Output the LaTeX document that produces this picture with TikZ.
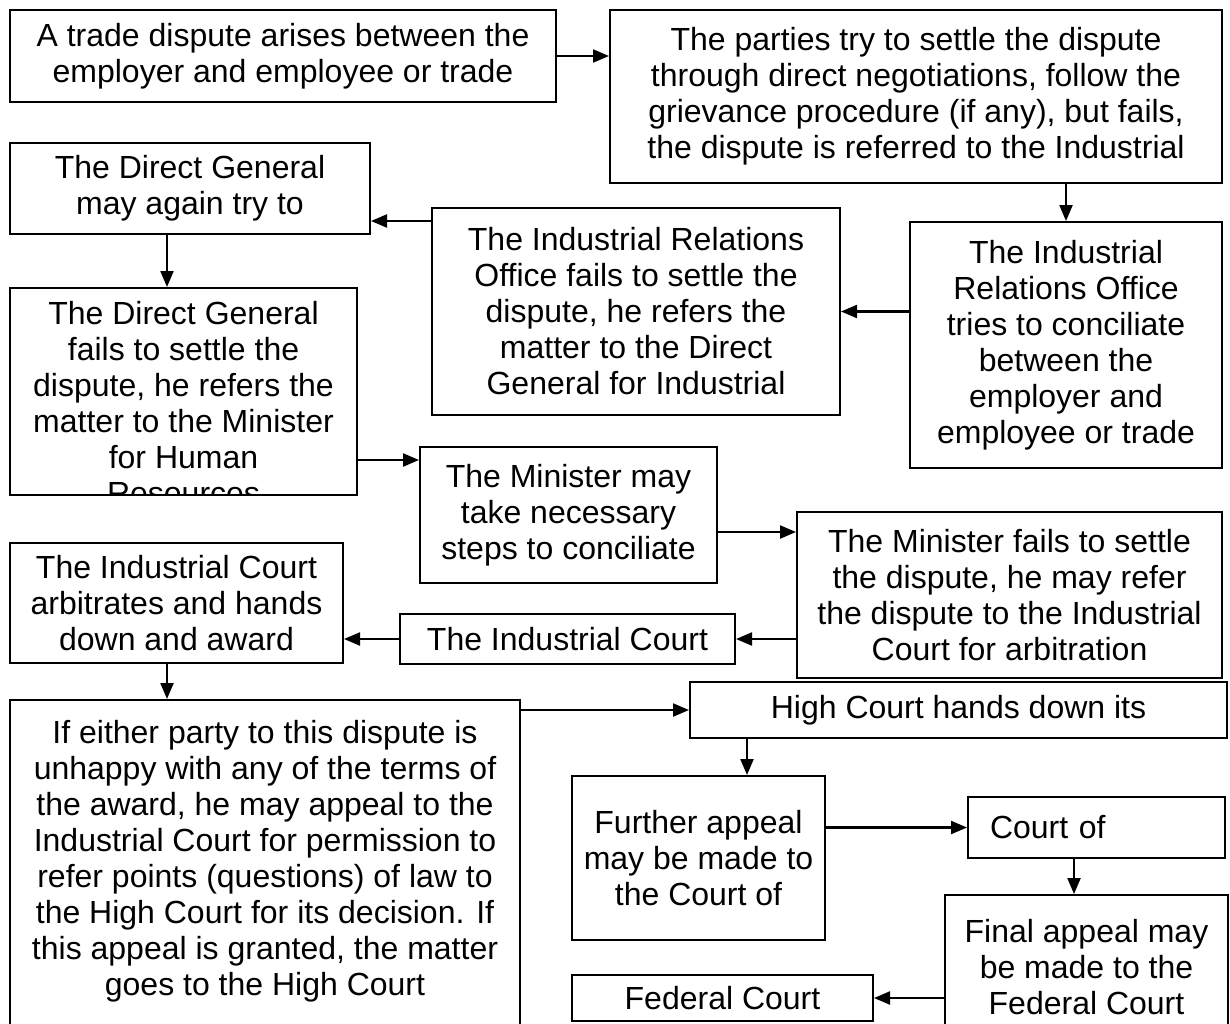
\documentclass[tikz,border=0pt]{standalone}
\usepackage{fontspec}
\setmainfont{Liberation Sans}
\usetikzlibrary{arrows.meta}

\begin{document}
\begin{tikzpicture}[x=1pt,y=-1pt,>={Triangle[length=16pt,width=13pt]},
  stage/.style={draw,line width=2pt,inner sep=0pt,align=center,font=\fontsize{32}{36}\selectfont},
  txt/.style={inner sep=0pt,align=center,font=\fontsize{32}{36}\selectfont},
  flow/.style={->,line width=2.2pt}]
\clip (0,0) rectangle (1230,1023);
\fill[white] (0,0) rectangle (1230,1023);
% dispute and conciliation
\node[stage,minimum width=546pt,minimum height=92pt] (arise) at (283,56) {A trade dispute arises between the\\employer and employee or trade};
\node[stage,minimum width=612pt,minimum height=173pt] (negotiate) at (916,96.5) {The parties try to settle the dispute\\through direct negotiations, follow the\\grievance procedure (if any), but fails,\\the dispute is referred to the Industrial};
\node[stage,minimum width=312pt,minimum height=246pt] (iroconcil) at (1066,345) {The Industrial\\Relations Office\\tries to conciliate\\between the\\employer and\\employee or trade};
\node[stage,minimum width=408pt,minimum height=207pt] (irofail) at (636,311.5) {The Industrial Relations\\Office fails to settle the\\dispute, he refers the\\matter to the Direct\\General for Industrial};
\node[stage,minimum width=360pt,minimum height=91pt] (dgtry) at (190,188.5) {The Direct General\\may again try to};
\begin{scope}
\clip (10,288) rectangle (357,494);
\node[txt,anchor=north] (dgfailtext) at (183.5,301) {The Direct General\\fails to settle the\\dispute, he refers the\\matter to the Minister\\for Human\\Resources};
\end{scope}
\node[stage,minimum width=347pt,minimum height=207pt] (dgfail) at (183.5,391.5) {};
% minister and court
\node[stage,minimum width=297pt,minimum height=136pt] (mintry) at (568.5,515) {The Minister may\\take necessary\\steps to conciliate};
\node[stage,minimum width=425pt,minimum height=166pt] (minfail) at (1009.5,595) {The Minister fails to settle\\the dispute, he may refer\\the dispute to the Industrial\\Court for arbitration};
\node[stage,minimum width=335pt,minimum height=50pt] (indcourt) at (567.5,639) {The Industrial Court};
\node[stage,minimum width=333pt,minimum height=120pt] (award) at (176.5,603) {The Industrial Court\\arbitrates and hands\\down and award};
% appeals
\node[stage,minimum width=510pt,minimum height=340pt] (appeal) at (265,870) {};
\node[txt,anchor=north] (appealtext) at (265,720) {If either party to this dispute is\\unhappy with any of the terms of\\the award, he may appeal to the\\Industrial Court for permission to\\refer points (questions) of law to\\the High Court for its decision. If\\this appeal is granted, the matter\\goes to the High Court};
\node[stage,minimum width=537pt,minimum height=56pt] (highcourt) at (958.5,710) {High Court hands down its};
\node[stage,minimum width=253pt,minimum height=164pt] (further) at (698.5,858) {Further appeal\\may be made to\\the Court of};
\node[stage,minimum width=257pt,minimum height=61pt,text width=213pt,align=left] (courtof) at (1096.5,827.5) {Court of};
\node[stage,minimum width=283pt,minimum height=144pt] (final) at (1086.5,967) {Final appeal may\\be made to the\\Federal Court};
\node[stage,minimum width=301pt,minimum height=46pt] (federal) at (722.5,998) {Federal Court};

\draw[flow] (arise.east) -- (arise.east -| negotiate.west);
\draw[flow] (iroconcil.north |- negotiate.south) -- (iroconcil.north);
\draw[flow] (iroconcil.west |- irofail.east) -- (irofail.east);
\draw[flow] ([yshift=-14pt]irofail.north west) -- ([yshift=-14pt]irofail.north west -| dgtry.east);
\draw[flow] ([xshift=158pt]dgtry.south west) -- ([xshift=158pt]dgtry.south west |- dgfail.north);
\draw[flow] ([yshift=-14pt]mintry.north west -| dgfail.east) -- ([yshift=-14pt]mintry.north west);
\draw[flow] ([yshift=-21pt]minfail.north west -| mintry.east) -- ([yshift=-21pt]minfail.north west);
\draw[flow] (minfail.west |- indcourt.east) -- (indcourt.east);
\draw[flow] (indcourt.west) -- (indcourt.west -| award.east);
\draw[flow] ([xshift=158pt]award.south west) -- ([xshift=158pt]award.south west |- appeal.north);
\draw[flow] (appeal.east |- highcourt.west) -- (highcourt.west);
\draw[flow] ([xshift=58pt]highcourt.south west) -- ([xshift=58pt]highcourt.south west |- further.north);
\draw[flow] (further.east |- courtof.west) -- (courtof.west);
\draw[flow] ([xshift=107pt]courtof.south west) -- ([xshift=107pt]courtof.south west |- final.north);
\draw[flow] (final.west |- federal.east) -- (federal.east);
\end{tikzpicture}
\end{document}
